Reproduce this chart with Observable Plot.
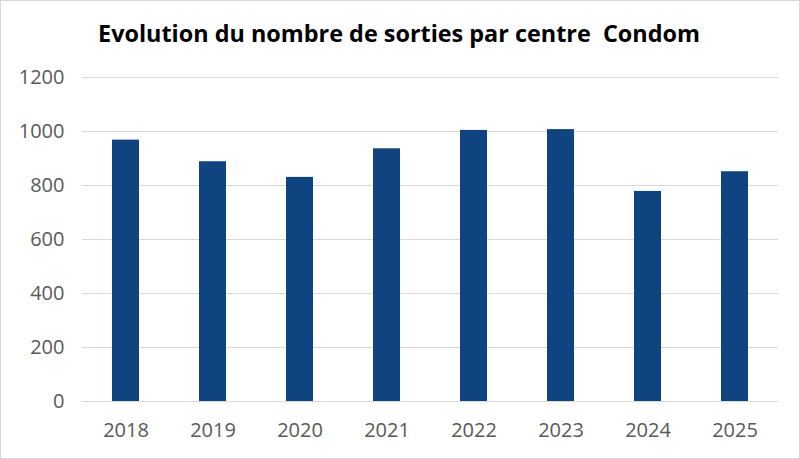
<!DOCTYPE html>
<html>
<head>
<meta charset="utf-8">
<script src="https://cdn.jsdelivr.net/npm/d3@7"></script>
<script src="https://cdn.jsdelivr.net/npm/@observablehq/plot@0.6"></script>
<style>
  html, body { margin: 0; padding: 0; background: #fff; }
  #frame { position: relative; width: 798px; height: 457px; border: 1px solid #d9d9d9; background: #fff; overflow: hidden; }
  #title { position: absolute; left: 0; top: 16px; width: 796px; text-align: center;
           font-family: "Open Sans", sans-serif; font-weight: bold; font-size: 23.4px; color: #000; white-space: pre; }
  #chart { position: absolute; left: 0; top: 0; }
</style>
</head>
<body>
<div id="frame">
  <div id="chart"></div>
  <div id="title">Evolution du nombre de sorties par centre  Condom</div>
</div>
<script>
const years = ["2018", "2019", "2020", "2021", "2022", "2023", "2024", "2025"];
const sorties = [968, 888, 830, 936, 1004, 1007, 778, 851];
const yTicks = [0, 200, 400, 600, 800, 1000, 1200];

const data = years.map((y, i) => ({year: y, value: sorties[i]}));

const chart = Plot.plot({
  width: 798,
  height: 457,
  marginTop: 76,
  marginBottom: 57,
  marginLeft: 81,
  marginRight: 21,
  style: {fontFamily: "'Open Sans', sans-serif", fontSize: "20px", color: "#595959", background: "transparent"},
  x: {domain: years, paddingInner: 0.69, paddingOuter: 0.345, label: null, tickSize: 0, tickPadding: 21},
  y: {domain: [0, 1200], ticks: yTicks, label: null, tickSize: 0, tickPadding: 18, tickFormat: d => String(d)},
  marks: [
    Plot.gridY(yTicks, {stroke: "#d9d9d9", strokeOpacity: 1, strokeWidth: 1}),
    Plot.barY(data, {x: "year", y: "value", fill: "#104480"}),
    Plot.ruleY([0], {stroke: "#d9d9d9", strokeWidth: 1})
  ]
});
document.getElementById("chart").appendChild(chart);
</script>
</body>
</html>
